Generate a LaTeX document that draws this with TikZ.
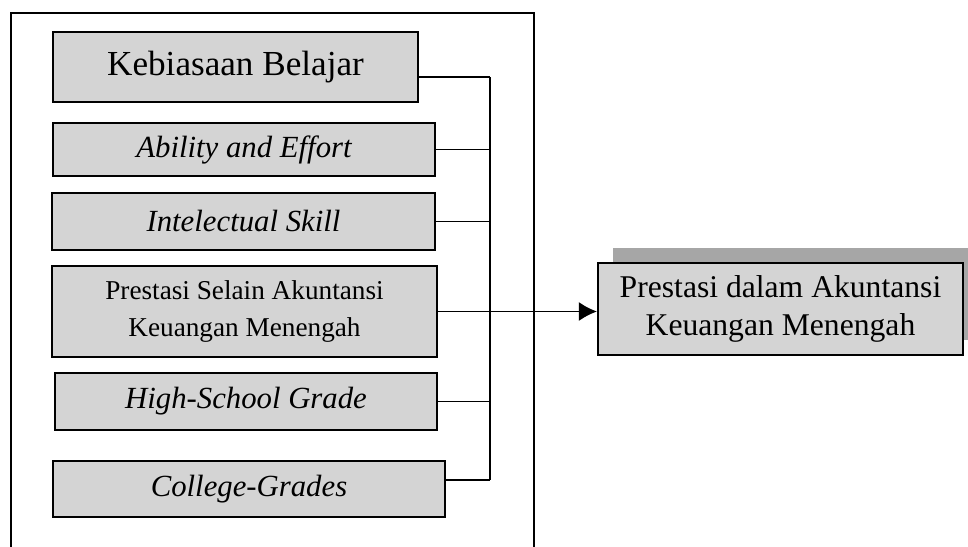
\documentclass[tikz,border=0pt]{standalone}
\usepackage{fontspec}
\setmainfont{Liberation Serif}
\usetikzlibrary{arrows.meta,positioning,shadows}

\begin{document}
\begin{tikzpicture}[>=Latex,
  factor/.style={draw,line width=1.3pt,fill=black!17,align=center,inner sep=0pt,
    font=\fontsize{17.5}{21.5}\selectfont},
  link/.style={line width=0.8pt}]
\useasboundingbox (0,0) rectangle (19.36,-10.94);
% outer frame (open at the bottom)
\coordinate (fl) at (0.22,-10.94);
\coordinate (fr) at (10.68,-10.94);
\draw[line width=1pt] (fl) |- (10.68,-0.26) -- (fr);
% factors
\node[factor,minimum width=7.3cm,minimum height=1.4cm,font=\fontsize{20}{22}\selectfont] (kb) at (4.71,-1.34) {Kebiasaan Belajar};
\node[factor,minimum width=7.64cm,minimum height=1.06cm] (ae) at (4.88,-2.99) {\itshape Ability and Effort};
\node[factor,minimum width=7.66cm,minimum height=1.14cm] (is) at (4.87,-4.43) {\itshape Intelectual Skill};
\node[factor,minimum width=7.7cm,minimum height=1.82cm,font=\fontsize{15.5}{21.5}\selectfont] (ps) at (4.89,-6.23) {Prestasi Selain Akuntansi\\Keuangan Menengah};
\node[factor,minimum width=7.64cm,minimum height=1.14cm] (hs) at (4.92,-8.03) {\itshape High-School Grade};
\node[factor,minimum width=7.84cm,minimum height=1.12cm] (cg) at (4.98,-9.78) {\itshape College-Grades};
% result
\node[factor,minimum width=7.3cm,minimum height=1.84cm,font=\fontsize{18}{21.5}\selectfont,
  drop shadow={shadow xshift=0.3cm,shadow yshift=0.3cm,fill=black!35,opacity=1}] (pd) at (15.61,-6.18) {Prestasi dalam Akuntansi\\Keuangan Menengah};
% connectors
\coordinate (bus) at (9.8,0);
\coordinate (kbout) at ([yshift=-0.2cm]kb.east);
\coordinate (cgout) at ([yshift=0.18cm]cg.east);
\draw[link] (kbout) -- (kbout -| bus);
\draw[link] (cgout) -- (cgout -| bus);
\foreach \n in {ae,is,ps,hs}{
  \draw[link] (\n.east) -- (\n.east -| bus);
}
\draw[link] (kbout -| bus) -- (cgout -| bus);
\draw[link,-{Latex[length=0.36cm,width=0.38cm]}] (ps.east) -- (ps.east -| pd.west);
\end{tikzpicture}
\end{document}
